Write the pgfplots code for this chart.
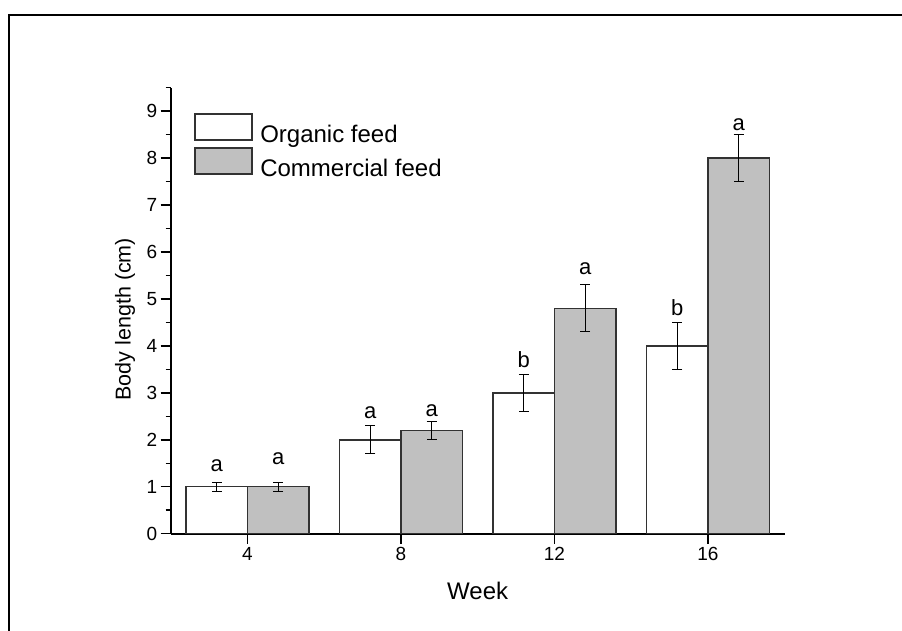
\documentclass[border=0pt]{standalone}
\usepackage{pgfplots}
\usepackage{pgfplotstable}
\pgfplotsset{compat=1.18}
\usepackage{fontspec}
\setmainfont{Liberation Sans}
\definecolor{barfill}{RGB}{192,192,192}
\definecolor{edge}{RGB}{50,50,50}
\pgfplotstableread{
week len err
4  1.0 0.1
8  2.0 0.3
12 3.0 0.4
16 4.0 0.5
}\organic
\pgfplotstableread{
week len err
4  1.0 0.1
8  2.2 0.2
12 4.8 0.5
16 8.0 0.5
}\commercial
\begin{document}
\begin{tikzpicture}
\useasboundingbox (0,0) rectangle (902pt,631pt);
\begin{scope}
\clip (0,0) rectangle (902pt,631pt);
\draw[line width=2pt] (8.7pt,-10pt) -- (8.7pt,616.3pt) -- (920pt,616.3pt);
\end{scope}
\begin{axis}[
  at={(170.7pt,97.3pt)}, anchor=south west,
  scale only axis, width=614pt, height=446pt,
  xmin=2, xmax=18, ymin=0, ymax=9.5,
  axis lines=left,
  axis line style={-, line width=1.8pt, black},
  xtick={4,8,12,16}, ytick={0,1,...,9},
  minor ytick={0.5,1.5,...,9.5},
  tick align=outside,
  major tick length=10pt, minor tick length=5pt,
  every tick/.style={line width=1.5pt, black},
  /pgf/number format/assume math mode=true,
  ticklabel style={font=\fontsize{19}{19}\selectfont},
  xlabel={Week}, ylabel={Body length (cm)},
  every axis x label/.style={at={(axis description cs:0.5,-0.147)}, anchor=base, font=\fontsize{24}{24}\selectfont},
  every axis y label/.style={at={(axis description cs:-0.0745,0.481)}, rotate=90, anchor=center, font=\fontsize{21.5}{21.5}\selectfont},
  legend style={at={(0.0384,0.9426)}, anchor=north west, draw=none, fill=none,
    inner sep=0pt, outer sep=0pt, row sep=3.3pt,
    nodes={inner sep=0pt},
    font=\fontsize{24}{24}\selectfont},
  legend cell align=left,
  legend image code/.code={\draw[#1] (0pt,-5pt) rectangle (57pt,20.7pt); \path (64.5pt,0pt);},
]
\addplot[ybar, bar width=1.6, bar shift=0, fill=white, draw=edge, line width=1.5pt,
  error bars/.cd, y dir=both, y explicit, error mark=|,
  error bar style={line width=1pt, black},
  error mark options={mark size=5pt, line width=1pt, black}]
  table[x expr=\thisrow{week}-0.8, y=len, y error=err] {\organic};
\addlegendentry{Organic feed}
\addplot[ybar, bar width=1.6, bar shift=0, fill=barfill, draw=edge, line width=1.5pt,
  error bars/.cd, y dir=both, y explicit, error mark=|,
  error bar style={line width=1pt, black},
  error mark options={mark size=5pt, line width=1pt, black}]
  table[x expr=\thisrow{week}+0.8, y=len, y error=err] {\commercial};
\addlegendentry{Commercial feed}
\begin{scope}[every node/.style={anchor=south, inner sep=0pt, font=\fontsize{22}{22}\selectfont}]
\node at (axis cs:3.2,1.32) {a};
\node at (axis cs:4.8,1.47) {a};
\node at (axis cs:7.2,2.45) {a};
\node at (axis cs:8.8,2.49) {a};
\node at (axis cs:11.2,3.54) {b};
\node at (axis cs:12.8,5.52) {a};
\node at (axis cs:15.2,4.64) {b};
\node at (axis cs:16.8,8.57) {a};
\end{scope}
\end{axis}
\end{tikzpicture}
\end{document}
